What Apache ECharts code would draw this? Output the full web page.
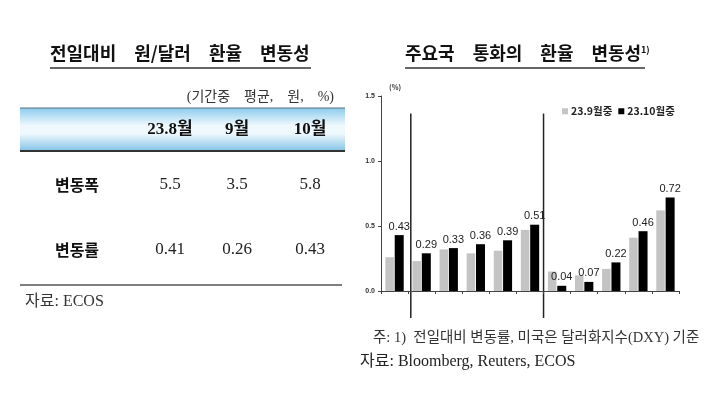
<!DOCTYPE html>
<html>
<head>
<meta charset="utf-8">
<script src="https://cdn.jsdelivr.net/npm/echarts@6/dist/echarts.min.js"></script>
<style>
  html, body { margin: 0; padding: 0; background: #fff; }
  #main { width: 711px; height: 400px; }
</style>
</head>
<body>
<div id="main"></div>
<script>
// 왼쪽 표: 전일대비 원/달러 환율 변동성
var tableCols = ['23.8월', '9월', '10월'];
var tableRows = ['변동폭', '변동률'];
var rangeVals = [5.5, 3.5, 5.8];
var rateVals = [0.41, 0.26, 0.43];

// 오른쪽 차트: 주요국 통화의 환율 변동성 (카테고리 라벨은 원본에 없음)
var categories = ['1', '2', '3', '4', '5', '6', '7', '8', '9', '10', '11'];
var seriesNames = ['23.9월중', '23.10월중'];
var sep23 = [0.26, 0.23, 0.32, 0.29, 0.31, 0.47, 0.15, 0.12, 0.17, 0.41, 0.62];
var oct23 = [0.43, 0.29, 0.33, 0.36, 0.39, 0.51, 0.04, 0.07, 0.22, 0.46, 0.72];
var yTicks = [0, 0.5, 1.0, 1.5];
// 구분선 위치 (카테고리 단위)
var sepLines = [0.6, 5.5];

var KR = "'Noto Sans CJK KR', sans-serif";
var SERIF = "'Liberation Serif', 'Noto Sans CJK KR', serif";

var myChart = echarts.init(document.getElementById('main'));

// 표 그리기
var colX = [170, 237, 310];
var rowY = [185, 250];
var tableGraphic = [
    { type: 'text', left: 50, top: 44, style: { text: '전일대비\u3000원/달러\u3000환율\u3000변동성', font: 'bold 18px ' + KR, fill: '#111' } },
    { type: 'line', shape: { x1: 50, y1: 68, x2: 311, y2: 68 }, style: { stroke: '#666', lineWidth: 2 } },
    { type: 'text', x: 334, y: 97, style: { text: '(기간중\u2002\u2002평균,\u2002\u2002원,\u2002\u2002%)', font: '14px ' + SERIF, fill: '#333', align: 'right', verticalAlign: 'middle' } },
    { type: 'rect', shape: { x: 20, y: 108, width: 325, height: 43 },
      style: { fill: new echarts.graphic.LinearGradient(0, 0, 0, 1, [
          { offset: 0, color: '#8ccbee' }, { offset: 0.4, color: '#eef8fd' },
          { offset: 0.6, color: '#eef8fd' }, { offset: 1, color: '#84c2e7' }]) } },
    { type: 'line', shape: { x1: 20, y1: 108, x2: 345, y2: 108 }, style: { stroke: '#5c6c7c', lineWidth: 1 } },
    { type: 'line', shape: { x1: 20, y1: 151, x2: 345, y2: 151 }, style: { stroke: '#333', lineWidth: 2 } },
    { type: 'line', shape: { x1: 20, y1: 285, x2: 342, y2: 285 }, style: { stroke: '#555', lineWidth: 1.5 } },
    { type: 'text', x: 25, y: 302, style: { text: '자료: ECOS', font: '16px ' + SERIF, fill: '#333', verticalAlign: 'middle' } }
];
tableCols.forEach(function (c, i) {
    tableGraphic.push({ type: 'text', x: colX[i], y: 130, style: { text: c, font: 'bold 17px ' + SERIF, fill: '#111', align: 'center', verticalAlign: 'middle' } });
});
var rowVals = [rangeVals.map(function (v) { return v.toFixed(1); }), rateVals.map(function (v) { return v.toFixed(2); })];
tableRows.forEach(function (r, j) {
    tableGraphic.push({ type: 'text', x: 77, y: rowY[j], style: { text: r, font: 'bold 16px ' + KR, fill: '#111', align: 'center', verticalAlign: 'middle' } });
    rowVals[j].forEach(function (v, i) {
        tableGraphic.push({ type: 'text', x: colX[i], y: rowY[j], style: { text: v, font: '17px ' + SERIF, fill: '#222', align: 'center', verticalAlign: 'middle' } });
    });
});

// 오른쪽 제목과 주석
var chartGraphic = [
    { type: 'text', left: 405, top: 44, style: { text: '주요국\u3000통화의\u3000환율\u3000변동성', font: 'bold 18px ' + KR, fill: '#111' } },
    { type: 'text', left: 641, top: 45, style: { text: '1)', font: 'bold 9px ' + KR, fill: '#111' } },
    { type: 'line', shape: { x1: 405, y1: 68, x2: 645, y2: 68 }, style: { stroke: '#666', lineWidth: 2 } },
    { type: 'text', x: 389, y: 87, style: { text: '(%)', font: 'bold 7px ' + KR, fill: '#333', verticalAlign: 'middle' } },
    { type: 'text', x: 373, y: 338, style: { text: '주: 1)  전일대비 변동률, 미국은 달러화지수(DXY) 기준', font: '14.5px ' + SERIF, fill: '#333', verticalAlign: 'middle' } },
    { type: 'text', x: 360, y: 362, style: { text: '자료: Bloomberg, Reuters, ECOS', font: '16px ' + SERIF, fill: '#222', verticalAlign: 'middle' } }
];

option = {
    animation: false,
    grid: { left: 381, right: 32, top: 96, bottom: 109 },
    legend: {
        data: seriesNames,
        left: 557, top: 101,
        itemWidth: 6, itemHeight: 6, itemGap: 6,
        icon: 'rect',
        textStyle: { fontSize: 10.5, fontWeight: 'bold', color: '#222', fontFamily: KR, padding: [0, 0, 0, -2] }
    },
    xAxis: {
        type: 'category',
        data: categories,
        axisLine: { lineStyle: { color: '#444', width: 1 } },
        axisTick: { show: true, length: 3, lineStyle: { color: '#444' } },
        axisLabel: { show: false },
        splitLine: { show: false }
    },
    yAxis: {
        type: 'value',
        min: 0, max: 1.5, interval: 0.5,
        axisLine: { show: true, lineStyle: { color: '#444', width: 1 } },
        axisTick: { show: true, length: 3, lineStyle: { color: '#444' } },
        axisLabel: {
            fontSize: 7, fontWeight: 'bold', color: '#333', margin: 6,
            formatter: function (v) { return yTicks.indexOf(v) >= 0 ? v.toFixed(1) : ''; }
        },
        splitLine: { show: false }
    },
    series: [
        {
            name: seriesNames[0], type: 'bar', data: sep23,
            barWidth: 8.5, barGap: '10%',
            itemStyle: { color: '#c4c4c4' }
        },
        {
            name: seriesNames[1], type: 'bar', data: oct23,
            barWidth: 9,
            itemStyle: { color: '#000' },
            label: {
                show: true, position: 'top', distance: 3,
                fontSize: 11, color: '#222', fontFamily: "'Liberation Sans', Arial, sans-serif",
                formatter: function (p) { return p.value.toFixed(2); }
            }
        }
    ],
    graphic: tableGraphic.concat(chartGraphic)
};
myChart.setOption(option);

// 구분선: 축 스케일로 위치 계산
var c0 = myChart.convertToPixel({ xAxisIndex: 0 }, 0);
var c1 = myChart.convertToPixel({ xAxisIndex: 0 }, 1);
var step = c1 - c0;
var yTop = myChart.convertToPixel({ yAxisIndex: 0 }, 1.365);
var yZero = myChart.convertToPixel({ yAxisIndex: 0 }, 0);
var sepGraphic = sepLines.map(function (s) {
    var x = c0 + s * step;
    return { type: 'line', shape: { x1: x, y1: yTop, x2: x, y2: yZero + 27 }, style: { stroke: '#222', lineWidth: 1.5 } };
});
myChart.setOption({ graphic: tableGraphic.concat(chartGraphic, sepGraphic) });
</script>
</body>
</html>
